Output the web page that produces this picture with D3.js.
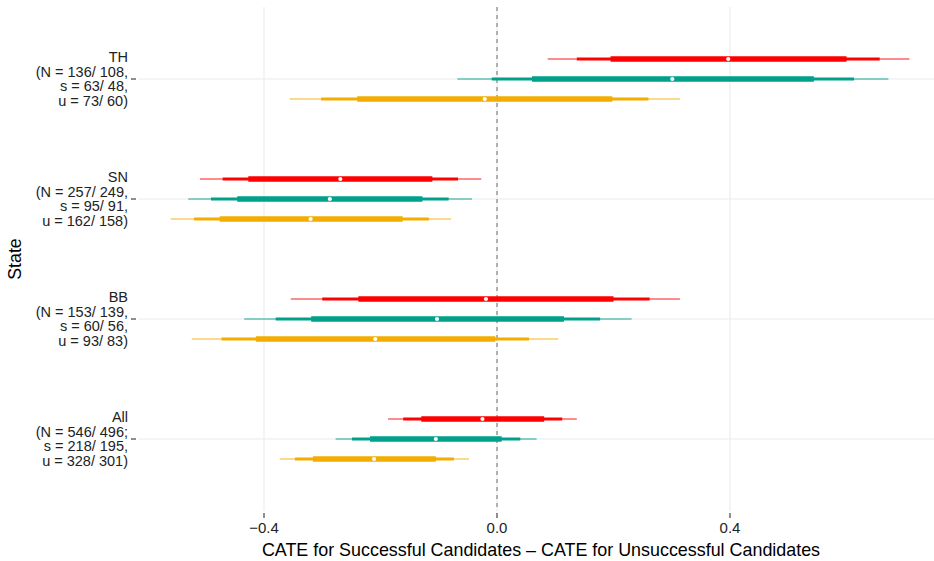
<!DOCTYPE html>
<html>
<head>
<meta charset="utf-8">
<script src="https://cdn.jsdelivr.net/npm/d3@7"></script>
<style>
  html, body { margin: 0; padding: 0; background: #fff; }
  svg { display: block; font-family: "Liberation Sans", Arial, sans-serif; }
</style>
</head>
<body>
<svg id="chart" width="934" height="561"></svg>
<script>
// ---------- data ----------
const states = ["TH", "SN", "BB", "All"];
const stateLabels = [
  ["TH", "(N = 136/ 108,", "s = 63/ 48,", "u = 73/ 60)"],
  ["SN", "(N = 257/ 249,", "s = 95/ 91,", "u = 162/ 158)"],
  ["BB", "(N = 153/ 139,", "s = 60/ 56,", "u = 93/ 83)"],
  ["All", "(N = 546/ 496;", "s = 218/ 195,", "u = 328/ 301)"]
];
const seriesNames = ["red", "teal", "orange"];
const seriesColors = ["#FF0000", "#00A08A", "#F2AD00"];

// per-state values, order matches states
const redEst   = [0.397, -0.269, -0.019, -0.025];
const redInner = [[0.195, 0.600], [-0.427, -0.111], [-0.238, 0.200], [-0.130, 0.081]];
const redMid   = [[0.137, 0.657], [-0.471, -0.067], [-0.300, 0.262], [-0.161, 0.112]];
const redOuter = [[0.087, 0.708], [-0.510, -0.027], [-0.354, 0.314], [-0.187, 0.137]];

const tealEst   = [0.301, -0.287, -0.103, -0.105];
const tealInner = [[0.060, 0.544], [-0.446, -0.128], [-0.319, 0.115], [-0.218, 0.008]];
const tealMid   = [[-0.009, 0.613], [-0.491, -0.083], [-0.380, 0.177], [-0.249, 0.040]];
const tealOuter = [[-0.068, 0.672], [-0.530, -0.043], [-0.434, 0.231], [-0.277, 0.068]];

const orangeEst   = [-0.021, -0.320, -0.209, -0.211];
const orangeInner = [[-0.240, 0.198], [-0.476, -0.162], [-0.414, -0.003], [-0.316, -0.105]];
const orangeMid   = [[-0.302, 0.260], [-0.520, -0.117], [-0.473, 0.055], [-0.347, -0.074]];
const orangeOuter = [[-0.356, 0.314], [-0.560, -0.079], [-0.524, 0.105], [-0.373, -0.048]];

const xTicks = [-0.4, 0.0, 0.4];
const xTitle = "CATE for Successful Candidates \u2013 CATE for Unsuccessful Candidates";
const yTitle = "State";

// ---------- build rows ----------
const seriesData = [
  { est: redEst, inner: redInner, mid: redMid, outer: redOuter },
  { est: tealEst, inner: tealInner, mid: tealMid, outer: tealOuter },
  { est: orangeEst, inner: orangeInner, mid: orangeMid, outer: orangeOuter }
];
const rows = [];
states.forEach((st, i) => {
  seriesNames.forEach((sn, j) => {
    const s = seriesData[j];
    rows.push({ state: st, series: sn, color: seriesColors[j],
      est: s.est[i], inner: s.inner[i], mid: s.mid[i], outer: s.outer[i] });
  });
});

// ---------- layout ----------
const panel = { left: 139, right: 934, top: 7, bottom: 511 };

const x = d3.scaleLinear()
  .domain([(139 - 497) / 582.5, (929 - 497) / 582.5])
  .range([139, 929]);

const y = d3.scalePoint().domain(states).range([panel.top, panel.bottom]).padding(0.6);
const dy = d3.scalePoint().domain(seriesNames).range([-20, 20]);

const svg = d3.select("#chart");

// gridlines
const grid = svg.append("g");
grid.selectAll("line.v").data(xTicks).enter().append("line")
  .attr("x1", d => x(d)).attr("x2", d => x(d))
  .attr("y1", panel.top).attr("y2", panel.bottom)
  .attr("stroke", "#EBEBEB").attr("stroke-width", 1.1);
grid.selectAll("line.h").data(states).enter().append("line")
  .attr("x1", panel.left).attr("x2", panel.right)
  .attr("y1", d => y(d)).attr("y2", d => y(d))
  .attr("stroke", "#EBEBEB").attr("stroke-width", 1.1);

// zero reference line
svg.append("line")
  .attr("x1", x(0)).attr("x2", x(0))
  .attr("y1", panel.top).attr("y2", panel.bottom)
  .attr("stroke", "#6e6e6e").attr("stroke-width", 1)
  .attr("stroke-dasharray", "4,4");

// intervals
const g = svg.append("g");
const rowY = d => y(d.state) + dy(d.series);
g.selectAll("line.outer").data(rows).enter().append("line")
  .attr("x1", d => x(d.outer[0])).attr("x2", d => x(d.outer[1]))
  .attr("y1", rowY).attr("y2", rowY)
  .attr("stroke", d => d.color).attr("stroke-width", 1.2).attr("stroke-opacity", 0.9);
g.selectAll("line.mid").data(rows).enter().append("line")
  .attr("x1", d => x(d.mid[0])).attr("x2", d => x(d.mid[1]))
  .attr("y1", rowY).attr("y2", rowY)
  .attr("stroke", d => d.color).attr("stroke-width", 3.2);
g.selectAll("line.inner").data(rows).enter().append("line")
  .attr("x1", d => x(d.inner[0])).attr("x2", d => x(d.inner[1]))
  .attr("y1", rowY).attr("y2", rowY)
  .attr("stroke", d => d.color).attr("stroke-width", 5.5);
g.selectAll("circle").data(rows).enter().append("circle")
  .attr("cx", d => x(d.est)).attr("cy", rowY).attr("r", 2.1)
  .attr("fill", "#fff");

// x axis ticks and labels
const xa = svg.append("g");
xa.selectAll("line").data(xTicks).enter().append("line")
  .attr("x1", d => x(d)).attr("x2", d => x(d))
  .attr("y1", panel.bottom + 2).attr("y2", panel.bottom + 7)
  .attr("stroke", "#333").attr("stroke-width", 1.1);
xa.selectAll("text").data(xTicks).enter().append("text")
  .attr("x", d => x(d)).attr("y", 533)
  .attr("text-anchor", "middle").attr("font-size", 15).attr("fill", "#222")
  .text(d => d3.format(".1f")(d).replace("-", "\u2212"));

// y axis ticks and labels
const ya = svg.append("g");
ya.selectAll("line").data(states).enter().append("line")
  .attr("x1", 131).attr("x2", 136)
  .attr("y1", d => y(d)).attr("y2", d => y(d))
  .attr("stroke", "#333").attr("stroke-width", 1.1);
states.forEach((st, i) => {
  const lines = stateLabels[i];
  const lh = 14.7;
  const t = ya.append("text")
    .attr("text-anchor", "end").attr("font-size", 14.5).attr("fill", "#222");
  lines.forEach((ln, k) => {
    t.append("tspan")
      .attr("x", 128)
      .attr("y", y(st) + (k - (lines.length - 1) / 2) * lh + 5)
      .text(ln);
  });
});

// titles
svg.append("text")
  .attr("x", 541).attr("y", 556)
  .attr("text-anchor", "middle").attr("font-size", 17.9).attr("fill", "#000")
  .text(xTitle);
svg.append("text")
  .attr("transform", `translate(21,${(panel.top + panel.bottom) / 2}) rotate(-90)`)
  .attr("text-anchor", "middle").attr("font-size", 17.8).attr("fill", "#000")
  .text(yTitle);
</script>
</body>
</html>
